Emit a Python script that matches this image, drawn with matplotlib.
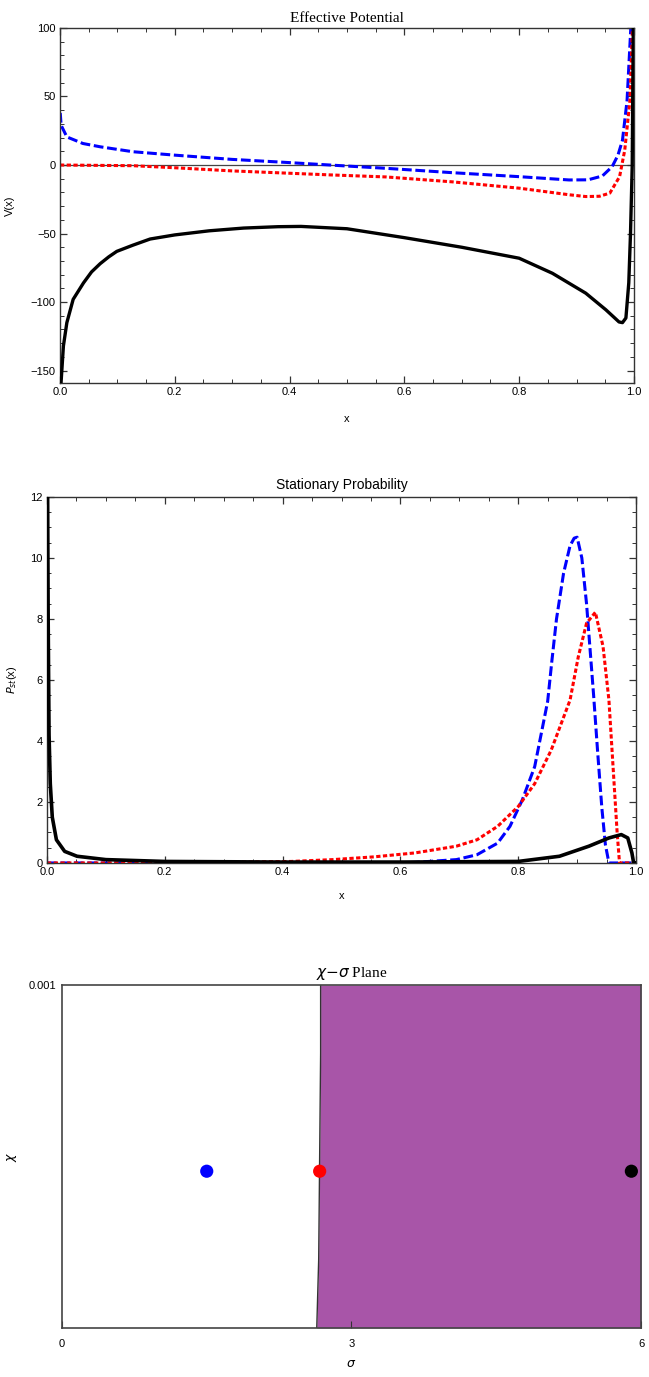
import numpy as np
import matplotlib
matplotlib.use("Agg")
import matplotlib.pyplot as plt
from matplotlib.ticker import MultipleLocator

# ---- Effective potential V(x) ----
xv_black = [0.0005, 0.002, 0.006, 0.012, 0.023, 0.041, 0.055, 0.07, 0.085, 0.099, 0.127, 0.157,
            0.2, 0.26, 0.32, 0.38, 0.42, 0.5, 0.6, 0.7, 0.8, 0.858, 0.916, 0.951, 0.965,
            0.974, 0.98, 0.986, 0.991, 0.994, 0.997, 0.999]
v_black = [-175, -158, -132, -115, -98, -86, -78, -72, -67, -63, -58.5, -54,
           -51, -48, -46, -45, -44.8, -46.5, -53, -60, -68, -79, -93.5, -105.6, -111,
           -114.5, -115, -111.6, -86, -50, 0, 110]
xv_blue = [0.0005, 0.002, 0.012, 0.04, 0.07, 0.127, 0.2, 0.3, 0.39, 0.47, 0.568, 0.684, 0.8,
           0.887, 0.92, 0.945, 0.962, 0.972, 0.98, 0.988, 0.994, 0.998]
v_blue = [38, 29, 20.5, 15.7, 13.3, 9.7, 7.2, 4.1, 2, 0, -2.4, -5.6, -8.5,
          -10.9, -10.8, -8, -1.2, 7, 18, 47, 95.6, 130]
xv_red = [0, 0.127, 0.2, 0.3, 0.47, 0.568, 0.684, 0.8, 0.887, 0.916, 0.94, 0.958, 0.975,
          0.984, 0.993, 0.997, 0.999]
v_red = [0, -0.5, -2, -4.3, -7.2, -8.7, -12.3, -16.9, -21.7, -23, -22.8, -20.5, -8.5,
         10.9, 47, 95, 130]

# ---- Stationary probability P_st(x) ----
xp_black = [0, 0.001, 0.002, 0.0035, 0.0056, 0.009, 0.016, 0.03, 0.051, 0.1, 0.2, 0.4, 0.6,
            0.8, 0.87, 0.92, 0.954, 0.975, 0.986, 0.993, 0.996, 1.0]
p_black = [14, 12.5, 8, 4.2, 2.6, 1.5, 0.76, 0.38, 0.22, 0.11, 0.05, 0.03, 0.03,
           0.05, 0.22, 0.55, 0.82, 0.93, 0.82, 0.33, 0, 0]
xp_blue = [0, 0.6, 0.625, 0.695, 0.73, 0.765, 0.786, 0.807, 0.828, 0.85, 0.857, 0.865, 0.877,
           0.888, 0.895, 0.9, 0.908, 0.916, 0.922, 0.928, 0.935, 0.942, 0.948, 0.954, 1.0]
p_blue = [0, 0, 0.02, 0.11, 0.27, 0.65, 1.2, 2.07, 3.16, 5.3, 6.6, 8.0, 9.5,
          10.4, 10.65, 10.68, 10.0, 8.5, 7.0, 5.5, 3.6, 1.8, 0.6, 0, 0]
xp_red = [0, 0.25, 0.275, 0.415, 0.485, 0.555, 0.625, 0.695, 0.73, 0.765, 0.8, 0.828, 0.856,
          0.888, 0.902, 0.916, 0.931, 0.944, 0.954, 0.961, 0.968, 0.972, 1.0]
p_red = [0, 0, 0.02, 0.05, 0.11, 0.2, 0.33, 0.55, 0.76, 1.2, 1.85, 2.6, 3.7,
         5.34, 6.76, 7.86, 8.22, 7.1, 5.34, 3.16, 0.98, 0, 0]

# ---- chi-sigma plane ----
chi_edge = [0, 0.0001, 0.0002, 0.0008, 0.001]
sigma_edge = [2.64, 2.65, 2.66, 2.68, 2.68]
sigma_pts = [1.5, 2.67, 5.9]
chi_pts = [0.000457, 0.000457, 0.000457]
pt_colors = ["#0000ff", "#ff0000", "#000000"]

x_ticks = [0.0, 0.2, 0.4, 0.6, 0.8, 1.0]
x_ticklabels = ["0.0", "0.2", "0.4", "0.6", "0.8", "1.0"]

tick_font = "Liberation Sans"
serif_font = "Liberation Serif"

fig = plt.figure(figsize=(6.49, 13.77), dpi=100)


def frame(ax, ymaj, ymin):
    ax.set_xticks(x_ticks)
    ax.set_xticklabels(x_ticklabels, family=tick_font)
    ax.xaxis.set_minor_locator(MultipleLocator(0.05))
    ax.yaxis.set_major_locator(MultipleLocator(ymaj))
    ax.yaxis.set_minor_locator(MultipleLocator(ymin))
    ax.tick_params(which="both", direction="in", top=True, right=True, color="#333333",
                   labelsize=8, pad=3)
    ax.tick_params(which="major", length=5, width=0.9)
    ax.tick_params(which="minor", length=3, width=0.7)
    for s in ax.spines.values():
        s.set_color("#333333")
        s.set_linewidth(1.0)
    for lab in ax.get_yticklabels():
        lab.set_family(tick_font)


# top: effective potential
ax1 = fig.add_axes([0.0924, 0.7219, 0.8844, 0.2578])
ax1.axhline(0, color="#444444", lw=0.9, zorder=1)
ax1.plot(xv_black, v_black, color="black", lw=2.4, solid_capstyle="round", zorder=3)
ax1.plot(xv_blue, v_blue, color="#0000ff", lw=2.2, dashes=(3.2, 1.2), zorder=2)
ax1.plot(xv_red, v_red, color="#ff0000", lw=2.2, dashes=(1.4, 0.8), zorder=2)
ax1.set_xlim(0, 1)
ax1.set_ylim(-159, 100)
frame(ax1, 50, 10)
ax1.set_title("Effective Potential", family=serif_font, fontsize=11, pad=4)
ax1.set_xlabel("x", family=tick_font, fontsize=8, labelpad=12)
ax1.set_ylabel("V(x)", family=tick_font, fontsize=8)
ax1.yaxis.set_label_coords(-0.078, 0.5)

# middle: stationary probability
ax2 = fig.add_axes([0.0724, 0.3733, 0.9076, 0.2658])
ax2.plot(xp_blue, p_blue, color="#0000ff", lw=2.2, dashes=(3.2, 1.2), zorder=2)
ax2.plot(xp_red, p_red, color="#ff0000", lw=2.2, dashes=(1.4, 0.8), zorder=2)
ax2.plot(xp_black, p_black, color="black", lw=2.6, zorder=3)
ax2.set_xlim(0, 1)
ax2.set_ylim(0, 12)
frame(ax2, 2, 0.5)
ax2.set_title("Stationary Probability", family=tick_font, fontsize=10, pad=6)
ax2.set_xlabel("x", family=tick_font, fontsize=8, labelpad=10)
ax2.set_ylabel(r"$P_{st}$(x)", family=tick_font, fontsize=8)
ax2.yaxis.set_label_coords(-0.048, 0.5)

# bottom: chi-sigma plane
ax3 = fig.add_axes([0.0955, 0.0356, 0.8922, 0.2491])
ax3.fill_betweenx(chi_edge, sigma_edge, 6, color="#a855a8", lw=0, zorder=1)
ax3.plot(sigma_edge, chi_edge, color="#333333", lw=1.0, zorder=2)
ax3.scatter(sigma_pts, chi_pts, c=pt_colors, s=90, zorder=4, edgecolors="none")
ax3.set_xlim(0, 6)
ax3.set_ylim(0, 0.001)
ax3.set_xticks([0, 3, 6])
ax3.set_xticklabels(["0", "3", "6"], family=tick_font)
ax3.set_yticks([0.001])
ax3.set_yticklabels(["0.001"], family=tick_font)
ax3.tick_params(direction="in", length=5, labelsize=8, color="#333333", pad=8)
ax3.tick_params(axis="y", length=0, pad=4)
for s in ax3.spines.values():
    s.set_color("#444444")
    s.set_linewidth(1.2)
ax3.set_title(r"$\chi$$-$$\sigma$ Plane", family=serif_font, fontsize=11, pad=6)
ax3.set_xlabel(r"$\sigma$", fontsize=9, labelpad=6)
ax3.set_ylabel(r"$\chi$", fontsize=9)
ax3.yaxis.set_label_coords(-0.075, 0.5)

fig.savefig("out.png", dpi=100)
